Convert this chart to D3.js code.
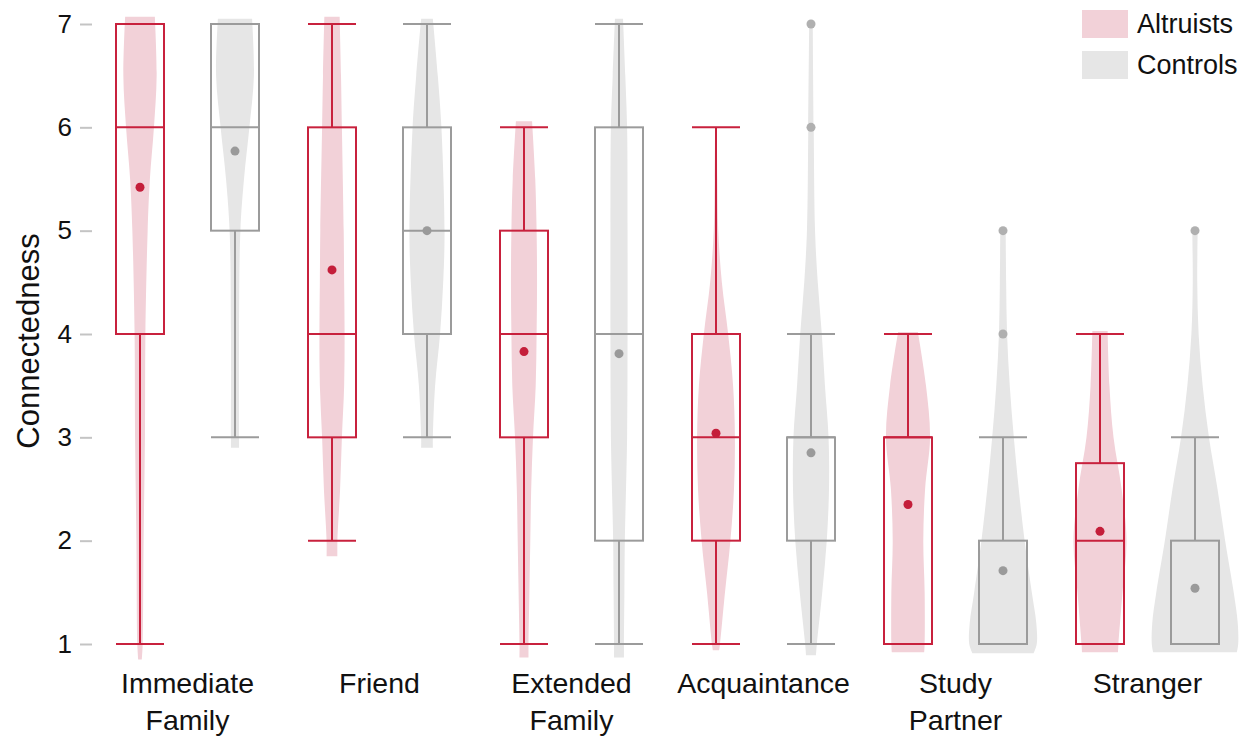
<!DOCTYPE html>
<html>
<head>
<meta charset="utf-8">
<script src="https://cdn.jsdelivr.net/npm/d3@7"></script>
<style>
  html, body { margin: 0; padding: 0; background: #ffffff; }
  svg { display: block; }
  text { font-family: "Liberation Sans", Arial, Helvetica, sans-serif; fill: #111; }
</style>
</head>
<body>
<svg id="chart" width="1248" height="740"></svg>
<script>
// ---------------- data ----------------
const categories = ["Immediate Family", "Friend", "Extended Family", "Acquaintance", "Study Partner", "Stranger"];
const categoryLines = [["Immediate", "Family"], ["Friend"], ["Extended", "Family"], ["Acquaintance"], ["Study", "Partner"], ["Stranger"]];
const groups = ["Altruists", "Controls"];
const yTicks = [1, 2, 3, 4, 5, 6, 7];

// box stats: [lower whisker, Q1, median, Q3, upper whisker]
const altruistBox = [[1, 4, 6, 7, 7], [2, 3, 4, 6, 7], [1, 3, 4, 5, 6], [1, 2, 3, 4, 6], [1, 1, 3, 3, 4], [1, 1, 2, 2.75, 4]];
const controlBox  = [[3, 5, 6, 7, 7], [3, 4, 5, 6, 7], [1, 2, 4, 6, 7], [1, 2, 3, 3, 4], [1, 1, 1, 2, 3], [1, 1, 1, 2, 3]];
const altruistMeans = [5.42, 4.62, 3.83, 3.04, 2.35, 2.09];
const controlMeans  = [5.77, 5.00, 3.81, 2.85, 1.71, 1.54];
const altruistOutliers = [[], [], [], [], [], []];
const controlOutliers  = [[], [], [], [6, 7], [4, 5], [5]];

// violin densities: [value, relative density (0-100)]
const altruistDensity = [
  [[0.85, 4], [1, 6], [2, 8], [3, 11], [4, 12], [5, 17], [5.5, 22], [6, 31], [6.5, 37], [7.07, 33]],
  [[1.85, 12], [2, 12], [2.5, 18], [3, 22], [3.5, 27], [4, 28], [4.5, 27], [5, 26], [6, 22], [6.5, 20], [7.07, 17]],
  [[0.87, 10], [1, 10], [1.5, 12], [2, 14], [2.5, 16], [3, 20], [3.5, 26], [4, 28], [4.5, 29], [5, 28], [5.5, 25], [6.06, 18]],
  [[0.94, 7], [1, 9], [1.5, 20], [2, 32], [2.5, 40], [3, 42], [3.5, 38], [4, 27], [4.5, 13], [5, 5], [5.5, 3], [6.0, 2]],
  [[0.92, 36], [1, 37], [1.5, 37], [2, 34], [2.5, 38], [3, 49], [3.5, 40], [4.02, 22]],
  [[0.92, 40], [1, 41], [1.5, 50], [2, 59], [2.5, 48], [3, 30], [3.5, 21], [4.03, 17]]
];
const controlDensity = [
  [[2.9, 9], [3, 9], [4, 9], [5, 12], [5.5, 20], [6, 32], [6.5, 42], [7.05, 38]],
  [[2.9, 13], [3, 13], [3.5, 18], [4, 29], [4.5, 36], [5, 39], [6, 32], [6.5, 24], [7.05, 13]],
  [[0.87, 11], [1, 11], [1.5, 12], [2, 13], [3, 18], [4, 19], [5, 19], [6, 18], [6.5, 14], [7.05, 9]],
  [[0.89, 11], [1, 13], [1.5, 25], [2, 35], [2.5, 40], [3, 39], [3.5, 31], [4, 24], [4.5, 15], [5, 9], [6, 6], [7.0, 4]],
  [[0.91, 68], [1, 75], [1.2, 74], [1.5, 64], [2, 48], [2.5, 35], [3, 24], [3.5, 15], [4, 9], [4.5, 7], [5.0, 6]],
  [[0.92, 93], [1, 96], [1.2, 95], [1.5, 86], [2, 67], [2.5, 50], [3, 31], [3.5, 17], [4, 8], [4.5, 5], [5.0, 6]]
];

// ---------------- styles ----------------
const col = {
  Altruists: { stroke: "#c8213d", fill: "#f2d1d8", mean: "#c41e3a", outlier: "#c41e3a" },
  Controls:  { stroke: "#9b9b9b", fill: "#e6e6e6", mean: "#9a9a9a", outlier: "#b0b0b0" }
};

// ---------------- scales ----------------
const svg = d3.select("#chart");
const y = d3.scaleLinear().domain([1, 7]).range([644, 24]);
const x = d3.scaleBand().domain(categories).range([91.5, 1243.5]).padding(0);
const sub = d3.scalePoint().domain(groups).range([-47.5, 47.5]);
const vw = d3.scaleLinear().domain([0, 100]).range([0, 45]);
const boxW = 48;

const series = [
  { g: "Altruists", box: altruistBox, means: altruistMeans, out: altruistOutliers, dens: altruistDensity },
  { g: "Controls", box: controlBox, means: controlMeans, out: controlOutliers, dens: controlDensity }
];

// ---------------- y axis ----------------
const yAxis = d3.axisLeft(y).tickValues(yTicks).tickSize(12).tickPadding(8).tickFormat(d3.format("d"));
const ax = svg.append("g").attr("transform", "translate(92,0)").call(yAxis);
ax.select(".domain").remove();
ax.selectAll(".tick line").attr("stroke", "#c4c4c4").attr("stroke-width", 2);
ax.selectAll(".tick text").attr("font-size", 26).attr("fill", "#111")
  .style("font-family", '"Liberation Sans", Arial, sans-serif');

svg.append("text")
  .attr("transform", "translate(38.5,341) rotate(-90)")
  .attr("text-anchor", "middle")
  .attr("font-size", 31)
  .text("Connectedness");

// ---------------- violins ----------------
series.forEach(s => {
  categories.forEach((c, i) => {
    const cx = x(c) + x.bandwidth() / 2 + sub(s.g);
    const area = d3.area()
      .curve(d3.curveCatmullRom.alpha(0.5))
      .y(d => y(d[0]))
      .x0(d => cx - vw(d[1]))
      .x1(d => cx + vw(d[1]));
    svg.append("path")
      .attr("d", area(s.dens[i]))
      .attr("fill", col[s.g].fill)
      .attr("stroke", "none");
  });
});

// ---------------- boxes ----------------
series.forEach(s => {
  const st = col[s.g];
  categories.forEach((c, i) => {
    const cx = x(c) + x.bandwidth() / 2 + sub(s.g);
    const [lo, q1, med, q3, hi] = s.box[i];
    const g = svg.append("g").attr("stroke", st.stroke).attr("stroke-width", 2).attr("fill", "none");
    g.append("line").attr("x1", cx).attr("x2", cx).attr("y1", y(q3)).attr("y2", y(hi));
    g.append("line").attr("x1", cx).attr("x2", cx).attr("y1", y(q1)).attr("y2", y(lo));
    g.append("line").attr("x1", cx - boxW / 2).attr("x2", cx + boxW / 2).attr("y1", y(hi)).attr("y2", y(hi));
    g.append("line").attr("x1", cx - boxW / 2).attr("x2", cx + boxW / 2).attr("y1", y(lo)).attr("y2", y(lo));
    g.append("rect").attr("x", cx - boxW / 2).attr("width", boxW)
      .attr("y", y(q3)).attr("height", y(q1) - y(q3));
    g.append("line").attr("x1", cx - boxW / 2).attr("x2", cx + boxW / 2).attr("y1", y(med)).attr("y2", y(med));
    s.out[i].forEach(v => {
      svg.append("circle").attr("cx", cx).attr("cy", y(v)).attr("r", 4.5).attr("fill", st.outlier);
    });
    svg.append("circle").attr("cx", cx).attr("cy", y(s.means[i])).attr("r", 4.5).attr("fill", st.mean);
  });
});

// ---------------- x labels ----------------
categories.forEach((c, i) => {
  const cx = x(c) + x.bandwidth() / 2;
  const t = svg.append("text").attr("text-anchor", "middle").attr("font-size", 28.5);
  categoryLines[i].forEach((line, j) => {
    t.append("tspan").attr("x", cx).attr("y", 693 + j * 37).text(line);
  });
});

// ---------------- legend ----------------
const leg = svg.append("g");
groups.forEach((gname, i) => {
  const ly = 10 + i * 41;
  leg.append("rect").attr("x", 1082).attr("y", ly).attr("width", 46).attr("height", 28).attr("fill", col[gname].fill);
  leg.append("text").attr("x", 1137).attr("y", ly + 14).attr("dy", "0.35em").attr("font-size", 27).text(gname);
});
</script>
</body>
</html>
